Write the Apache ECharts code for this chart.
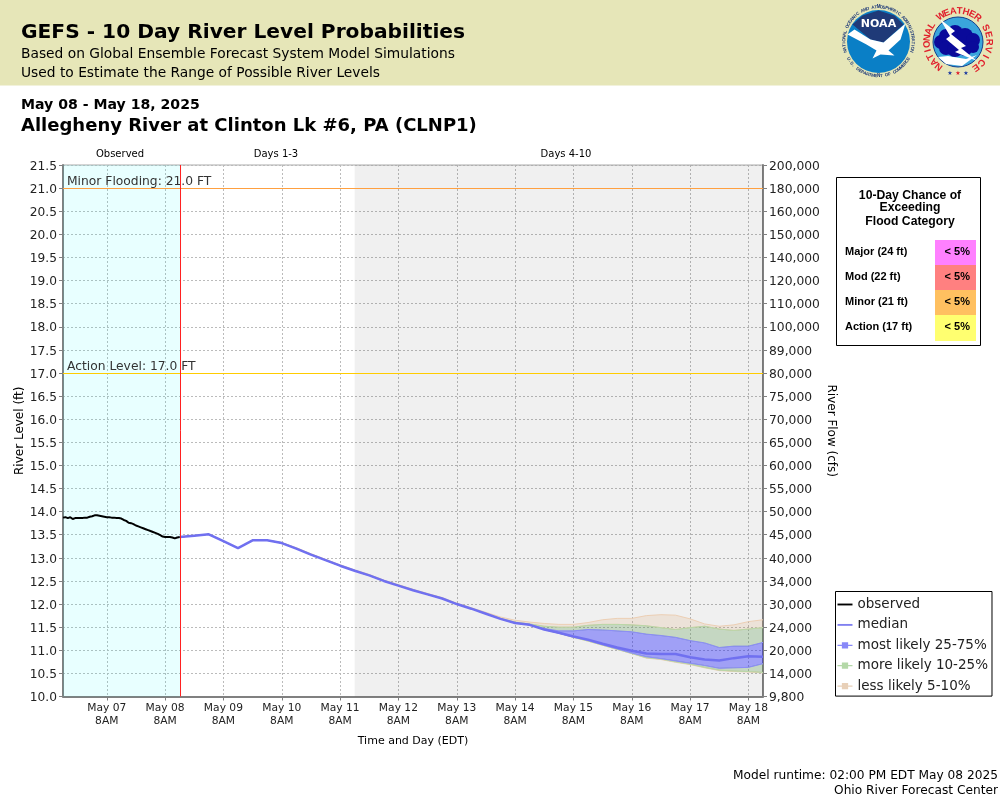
<!DOCTYPE html>
<html>
<head>
<meta charset="utf-8">
<title>GEFS - 10 Day River Level Probabilities</title>
<script src="https://cdn.jsdelivr.net/npm/echarts@6/dist/echarts.min.js"></script>
<style>
html, body { margin: 0; padding: 0; background: #fff; }
#chart { width: 1000px; height: 800px; }
</style>
</head>
<body>
<div id="chart"></div>
<script>
// 轴的刻度
var flowTicks = ['200,000','180,000','160,000','150,000','140,000','120,000','110,000','100,000','89,000','80,000','75,000','70,000',
	'65,000','60,000','55,000','50,000','45,000','40,000','34,000','30,000','24,000','20,000','14,000','9,800'];
var dayTicks = ['May 07','May 08','May 09','May 10','May 11','May 12','May 13','May 14','May 15','May 16','May 17','May 18'];
// x轴单位：距5月6日14时的小时数，刻度在每天8时
var tickHours = [18,42,66,90,114,138,162,186,210,234,258,282];

// 实测水位，5月6日14时起，每小时一个点
var observed = [13.87,13.88,13.86,13.88,13.84,13.86,13.86,13.86,13.86,13.87,13.87,13.89,13.90,13.92,13.92,13.91,13.90,13.89,13.88,13.88,
	13.87,13.87,13.86,13.86,13.85,13.82,13.80,13.76,13.75,13.73,13.70,13.68,13.66,13.64,13.62,13.60,13.58,13.56,13.54,13.52,
	13.49,13.46,13.45,13.45,13.45,13.44,13.42,13.44,13.45];

// 预报水位，5月8日14时起，每6小时一个点
var median = [13.45,13.48,13.51,13.36,13.21,13.38,13.38,13.32,13.20,13.07,12.95,12.83,12.72,12.62,12.50,12.40,12.30,12.21,12.12,12.00,
	11.90,11.79,11.68,11.59,11.55,11.45,11.38,11.30,11.23,11.14,11.06,10.99,10.93,10.92,10.92,10.85,10.80,10.78,10.83,10.87,10.86];
var p95 = [13.45,13.48,13.51,13.36,13.21,13.38,13.38,13.33,13.22,13.09,12.97,12.85,12.74,12.64,12.52,12.42,12.32,12.23,12.14,12.02,
	11.92,11.82,11.72,11.65,11.61,11.58,11.56,11.56,11.60,11.66,11.69,11.69,11.75,11.77,11.76,11.68,11.57,11.52,11.55,11.62,11.66];
var p90 = [13.45,13.48,13.51,13.36,13.21,13.38,13.38,13.33,13.21,13.08,12.96,12.84,12.73,12.63,12.51,12.41,12.31,12.22,12.13,12.01,
	11.91,11.80,11.69,11.61,11.57,11.52,11.50,11.50,11.54,11.56,11.56,11.55,11.53,11.49,11.45,11.49,11.52,11.46,11.43,11.46,11.49];
var p75 = [13.45,13.48,13.51,13.36,13.21,13.38,13.38,13.32,13.20,13.07,12.95,12.83,12.72,12.62,12.50,12.40,12.30,12.21,12.12,12.00,
	11.90,11.79,11.68,11.59,11.56,11.47,11.42,11.42,11.45,11.44,11.42,11.40,11.35,11.32,11.28,11.21,11.16,11.06,11.09,11.09,11.17];
var p25 = [13.45,13.48,13.51,13.36,13.21,13.38,13.38,13.32,13.20,13.07,12.95,12.83,12.72,12.62,12.50,12.40,12.30,12.21,12.12,12.00,
	11.90,11.79,11.68,11.59,11.55,11.45,11.37,11.29,11.21,11.12,11.03,10.94,10.86,10.82,10.77,10.72,10.67,10.61,10.62,10.63,10.71];
var p10 = [13.45,13.48,13.51,13.36,13.21,13.38,13.38,13.32,13.20,13.07,12.95,12.83,12.72,12.62,12.50,12.40,12.30,12.21,12.12,12.00,
	11.90,11.79,11.68,11.59,11.55,11.45,11.37,11.28,11.20,11.11,11.02,10.93,10.84,10.81,10.75,10.70,10.63,10.57,10.55,10.54,10.52];
var p5 = [13.45,13.48,13.51,13.36,13.21,13.38,13.38,13.32,13.20,13.07,12.95,12.83,12.72,12.62,12.50,12.40,12.30,12.21,12.12,12.00,
	11.90,11.79,11.68,11.59,11.55,11.45,11.37,11.28,11.20,11.11,11.02,10.93,10.83,10.80,10.74,10.69,10.62,10.56,10.54,10.53,10.51];

// 洪水等级表
var floodLabels = ['Major (24 ft)','Mod (22 ft)','Minor (21 ft)','Action (17 ft)'];
var floodChance = ['< 5%','< 5%','< 5%','< 5%'];
var floodColors = ['#ff80ff','#ff8080','#ffc060','#ffff70'];

var axisStart = 0;
var nowTime = 48;
var nowLine = 48.35;  // 红线对齐像素
var day4Time = 120;
var axisEnd = 288;
var yMin = 10;
var yMax = 21.5;
var font = 'DejaVu Sans';

function obsRows() {
	return observed.map(function (v, i) { return [axisStart + i, v]; });
}
function fcstTime(i) { return nowTime + i * 6; }
function fcstRows(arr) {
	return arr.map(function (v, i) { return [fcstTime(i), v]; });
}

// 背景色块
function regionSeries() {
	var rows = [[axisStart, nowLine, 'rgba(0,255,255,0.09)'], [day4Time, axisEnd, 'rgba(0,0,0,0.06)']];
	return {
		name: 'regions',
		type: 'custom',
		z: 1,
		silent: true,
		encode: { x: [0, 1] },
		data: rows,
		renderItem: function (params, api) {
			var row = rows[params.dataIndex];
			var a = api.coord([row[0], yMax]);
			var b = api.coord([row[1], yMin]);
			return { type: 'rect', shape: { x: a[0], y: a[1], width: b[0] - a[0], height: b[1] - a[1] }, style: { fill: row[2], stroke: null } };
		}
	};
}

// 概率带，用 custom series 画多边形
function bandSeries(name, fill, stroke, pairs) {
	var rows = [];
	pairs.forEach(function (p) {
		p[0].forEach(function (v, i) { rows.push([fcstTime(i), v, p[1][i]]); });
	});
	return {
		name: name,
		type: 'custom',
		z: 3,
		silent: true,
		itemStyle: { color: fill },
		encode: { x: 0, y: [1, 2] },
		data: rows,
		renderItem: function (params, api) {
			if (params.dataIndex !== 0) return null;
			var children = [];
			pairs.forEach(function (p) {
				var low = p[0].map(function (v, i) { return api.coord([fcstTime(i), v]); });
				var high = p[1].map(function (v, i) { return api.coord([fcstTime(i), v]); });
				children.push({ type: 'polygon', shape: { points: low.concat(high.slice().reverse()) }, style: { fill: fill } });
				children.push({ type: 'polyline', shape: { points: high }, style: { fill: null, stroke: stroke, lineWidth: 1 } });
				children.push({ type: 'polyline', shape: { points: low }, style: { fill: null, stroke: stroke, lineWidth: 1 } });
			});
			return { type: 'group', children: children };
		}
	};
}

function label(x, y, str, size, opt) {
	var o = opt || {};
	return {
		type: 'text', x: x, y: y, z: 20, rotation: o.rotation || 0,
		style: {
			text: str, fill: o.color || '#000', font: (o.weight || 'normal') + ' ' + size + 'px "' + (o.family || font) + '"',
			textAlign: o.align || 'left', textVerticalAlign: 'middle'
		}
	};
}

// 圆环文字，逐字旋转
function ringText(cx, cy, r, str, from, to, size, color, flip) {
	var out = [];
	var n = str.length;
	for (var i = 0; i < n; i++) {
		var deg = from + (to - from) * i / (n - 1);
		var rad = deg * Math.PI / 180;
		var x = cx + r * Math.cos(rad);
		var y = cy + r * Math.sin(rad);
		var rot = flip ? -(rad - Math.PI / 2) : -(rad + Math.PI / 2);
		out.push({
			type: 'text', x: x, y: y, rotation: rot, z: 22,
			style: { text: str[i], fill: color, font: 'bold ' + size + 'px "Liberation Sans"', textAlign: 'center', textVerticalAlign: 'middle' }
		});
	}
	return out;
}

function noaaLogo(cx, cy) {
	var g = [];
	g.push({ type: 'circle', z: 21, shape: { cx: cx, cy: cy, r: 31.5 }, style: { fill: '#0a7fc6' } });
	g.push({ type: 'polygon', z: 21, shape: { points: [[cx-26,cy-17],[cx-16,cy-26],[cx,cy-31],[cx+16,cy-26],[cx+25,cy-17],[cx+5,cy+1],[cx-8,cy-2]] }, style: { fill: '#1f3a78' } });
	g.push({ type: 'polygon', z: 21, shape: { points: [[cx-31,cy-7],[cx-24,cy-12],[cx-8,cy-2],[cx+5,cy+1],[cx+27,cy-18],[cx+22,cy-2],[cx+10,cy+9],[cx+16,cy+14],[cx+2,cy+13],[cx-6,cy+17],[cx-2,cy+9],[cx-12,cy+3]] }, style: { fill: '#fff' } });
	g.push({ type: 'text', x: cx, y: cy - 17, z: 22, style: { text: 'NOAA', fill: '#fff', font: 'bold 11px "DejaVu Sans"', textAlign: 'center', textVerticalAlign: 'middle' } });
	g = g.concat(ringText(cx, cy, 34.5, 'NATIONAL OCEANIC AND ATMOSPHERIC ADMINISTRATION', -196, 16, 4.5, '#1f3a78'));
	g = g.concat(ringText(cx, cy, 34.5, 'U.S. DEPARTMENT OF COMMERCE', 150, 30, 4.5, '#1f3a78', true));
	return g;
}

function nwsLogo(cx, cy) {
	var g = [];
	g.push({ type: 'circle', z: 21, shape: { cx: cx, cy: cy, r: 25 }, style: { fill: '#3aa6dc', stroke: '#123c8c', lineWidth: 1 } });
	g.push({ type: 'polygon', z: 21, shape: { points: [[cx-10,cy+14],[cx+8,cy+17],[cx+19,cy+13],[cx+4,cy+24],[cx-12,cy+22],[cx-20,cy+15]] }, style: { fill: '#fff' } });
	var cloud = [[-17,0,7],[-12,-6,7],[-3,-9,8],[7,-6,8],[15,-2,7],[-12,6,7],[-3,7,8],[7,7,7],[15,5,6]];
	cloud.forEach(function (c) {
		g.push({ type: 'circle', z: 21, shape: { cx: cx + c[0], cy: cy + c[1], r: c[2] }, style: { fill: '#0a0a9a' } });
	});
	g.push({ type: 'polygon', z: 22, shape: { points: [[cx-18,cy-23],[cx-3,cy-11],[cx-7,cy-8],[cx+8,cy+4],[cx+3,cy+6],[cx+19,cy+19],[cx-3,cy+10],[cx+1,cy+8],[cx-12,cy-3],[cx-8,cy-6]] }, style: { fill: '#fff' } });
	g = g.concat(ringText(cx, cy, 31, 'NATIONAL', 128, 212, 9.5, '#e0202c'));
	g = g.concat(ringText(cx, cy, 31, 'WEATHER', -123, -51, 9.5, '#e0202c'));
	g = g.concat(ringText(cx, cy, 31, 'SERVICE', -27, 55, 9.5, '#e0202c'));
	[[-8,'#1c3aa0'],[0,'#e0202c'],[8,'#1c3aa0']].forEach(function (s) {
		g.push({ type: 'text', x: cx + s[0], y: cy + 31, z: 22, style: { text: '★', fill: s[1], font: '6px "DejaVu Sans"', textAlign: 'center', textVerticalAlign: 'middle' } });
	});
	return g;
}

function floodBox() {
	var g = [];
	g.push({ type: 'rect', z: 10, shape: { x: 836.5, y: 177.5, width: 144, height: 168 }, style: { fill: '#fff', stroke: '#000', lineWidth: 1 } });
	g.push(label(910, 195.5, '10-Day Chance of', 12.2, { weight: 'bold', family: 'Liberation Sans', align: 'center' }));
	g.push(label(910, 208, 'Exceeding', 12.2, { weight: 'bold', family: 'Liberation Sans', align: 'center' }));
	g.push(label(910, 221.5, 'Flood Category', 12.2, { weight: 'bold', family: 'Liberation Sans', align: 'center' }));
	floodLabels.forEach(function (name, i) {
		var top = 240 + i * 25;
		g.push({ type: 'rect', z: 11, shape: { x: 935, y: top, width: 41, height: i === 3 ? 26 : 25 }, style: { fill: floodColors[i] } });
		g.push(label(845, top + 12, name, 11, { weight: 'bold', family: 'Liberation Sans' }));
		g.push(label(970, top + 12, floodChance[i], 11, { weight: 'bold', family: 'Liberation Sans', align: 'right' }));
	});
	return g;
}

var legendIcon = 'path://M0 7H7V3H17V7H24V9H17V13H7V9H0Z';
var legendLine = 'path://M0 6.5H24V9.5H0Z';

var graphics = [
	{ type: 'rect', z: 5, shape: { x: 0, y: 0, width: 1000, height: 85.5 }, style: { fill: '#e6e6b8' } },
	label(21, 33, 'GEFS - 10 Day River Level Probabilities', 20.2, { weight: 'bold' }),
	label(21, 54, 'Based on Global Ensemble Forecast System Model Simulations', 13.8),
	label(21, 73, 'Used to Estimate the Range of Possible River Levels', 13.8),
	label(21, 105, 'May 08 - May 18, 2025', 14.1, { weight: 'bold' }),
	label(21, 126, 'Allegheny River at Clinton Lk #6, PA (CLNP1)', 18, { weight: 'bold' }),
	label(120, 154, 'Observed', 10, { align: 'center' }),
	label(276, 154, 'Days 1-3', 10, { align: 'center' }),
	label(566, 154, 'Days 4-10', 10, { align: 'center' }),
	label(998, 776, 'Model runtime: 02:00 PM EDT May 08 2025', 12.2, { align: 'right' }),
	label(998, 791, 'Ohio River Forecast Center', 12.2, { align: 'right' })
].concat(floodBox(), noaaLogo(878.5, 41.5), nwsLogo(958, 42));

var chart = echarts.init(document.getElementById('chart'), null, { renderer: 'canvas' });

chart.setOption({
	animation: false,
	backgroundColor: '#fff',
	textStyle: { fontFamily: font },
	grid: { left: 63, right: 237, top: 165, height: 531.5, show: true, backgroundColor: '#fff', borderColor: '#aaa', borderWidth: 1, outerBoundsMode: 'none' },
	legend: {
		left: 835.5, top: 591.5, orient: 'vertical', itemWidth: 15, itemHeight: 14, itemGap: 6.4,
		padding: [6, 4, 3, 2], borderColor: '#000', borderWidth: 1, backgroundColor: '#fff',
		textStyle: { fontFamily: font, fontSize: 13.5, color: '#222' },
		selectedMode: false,
		data: [
			{ name: 'observed', icon: legendLine, itemStyle: { color: '#000' } },
			{ name: 'median', icon: legendLine, itemStyle: { color: '#8080f0' } },
			{ name: 'most likely 25-75%', icon: legendIcon, itemStyle: { color: '#8888f8' } },
			{ name: 'more likely 10-25%', icon: legendIcon, itemStyle: { color: '#b4d8a8' } },
			{ name: 'less likely 5-10%', icon: legendIcon, itemStyle: { color: '#e8d0b8' } }
		]
	},
	xAxis: {
		type: 'value',
		min: axisStart,
		max: axisEnd,
		name: 'Time and Day (EDT)',
		nameLocation: 'middle',
		nameGap: 39,
		nameMoveOverlap: false,
		nameTextStyle: { fontSize: 11, color: '#000', fontFamily: font },
		axisLine: { lineStyle: { color: '#808080', width: 2 } },
		axisTick: { length: 4, lineStyle: { color: '#808080' }, customValues: tickHours },
		axisLabel: {
			customValues: tickHours,
			fontSize: 10.7, color: '#222', lineHeight: 13, margin: 5, hideOverlap: false,
			formatter: function (v) {
				var i = tickHours.indexOf(+v);
				return i < 0 ? '' : dayTicks[i] + '\n8AM';
			}
		},
		splitLine: { show: true, lineStyle: { color: '#bbb', type: [2, 2], width: 1 } }
	},
	yAxis: [
		{
			type: 'value', min: yMin, max: yMax, interval: 0.5, position: 'left',
			name: 'River Level (ft)', nameLocation: 'middle', nameGap: 37, nameRotate: 90, nameMoveOverlap: false,
			nameTextStyle: { fontSize: 12, color: '#000', fontFamily: font },
			axisLine: { show: true, onZero: false, lineStyle: { color: '#808080', width: 2 } },
			axisTick: { show: true, length: 4, lineStyle: { color: '#808080' } },
			axisLabel: {
				margin: 6,
				rich: { a: { fontSize: 12.2, color: '#222', fontFamily: font, padding: [3, 0, 0, 0] } },
				formatter: function (v) { return '{a|' + v.toFixed(1) + '}'; }
			},
			splitLine: { show: true, lineStyle: { color: '#bbb', type: [2, 2], width: 1 } }
		},
		{
			type: 'value', min: yMin, max: yMax, interval: 0.5, position: 'right',
			name: 'River Flow (cfs)', nameLocation: 'middle', nameGap: 62, nameRotate: -90, nameMoveOverlap: false,
			nameTextStyle: { fontSize: 12, color: '#000', fontFamily: font },
			axisLine: { show: true, onZero: false, lineStyle: { color: '#808080', width: 2 } },
			axisTick: { show: true, length: 4, lineStyle: { color: '#808080' } },
			axisLabel: {
				margin: 6,
				rich: { a: { fontSize: 12.3, color: '#222', fontFamily: font, padding: [3, 0, 0, 0] } },
				formatter: function (v) { return '{a|' + flowTicks[Math.round((yMax - v) * 2)] + '}'; }
			},
			splitLine: { show: false }
		}
	],
	graphic: graphics,
	series: [
		regionSeries(),
		bandSeries('less likely 5-10%', 'rgba(220,170,120,0.2)', '#eccfb4', [[p90, p95], [p5, p10]]),
		bandSeries('more likely 10-25%', 'rgba(100,160,90,0.3)', '#b8d8a8', [[p75, p90], [p10, p25]]),
		bandSeries('most likely 25-75%', 'rgba(40,40,255,0.4)', '#8c8cf8', [[p25, p75]]),
		{
			name: 'now', type: 'line', data: [[nowLine, yMin], [nowLine, yMax]], showSymbol: false, z: 10, silent: true,
			lineStyle: { color: '#ff2020', width: 1 }, itemStyle: { color: '#ff2020' }
		},
		{
			name: 'median', type: 'line', data: fcstRows(median), showSymbol: false, z: 5, silent: true,
			lineStyle: { color: '#7070f0', width: 2.5 }, itemStyle: { color: '#7070f0' }
		},
		{
			name: 'observed', type: 'line', data: obsRows(), showSymbol: false, z: 6, silent: true,
			lineStyle: { color: '#000', width: 2 }, itemStyle: { color: '#000' },
			markLine: {
				silent: true, symbol: 'none', animation: false,
				data: [
					{
						yAxis: 21, lineStyle: { color: '#ffa040', width: 1, type: 'solid' },
						label: { formatter: 'Minor Flooding: 21.0 FT', position: 'insideStartTop', distance: [4, 0], fontSize: 12.3, color: '#333', fontFamily: font }
					},
					{
						yAxis: 17, lineStyle: { color: '#ffcc00', width: 1, type: 'solid' },
						label: { formatter: 'Action Level: 17.0 FT', position: 'insideStartTop', distance: [4, 0], fontSize: 12.3, color: '#333', fontFamily: font }
					}
				]
			}
		}
	]
});
</script>
</body>
</html>
